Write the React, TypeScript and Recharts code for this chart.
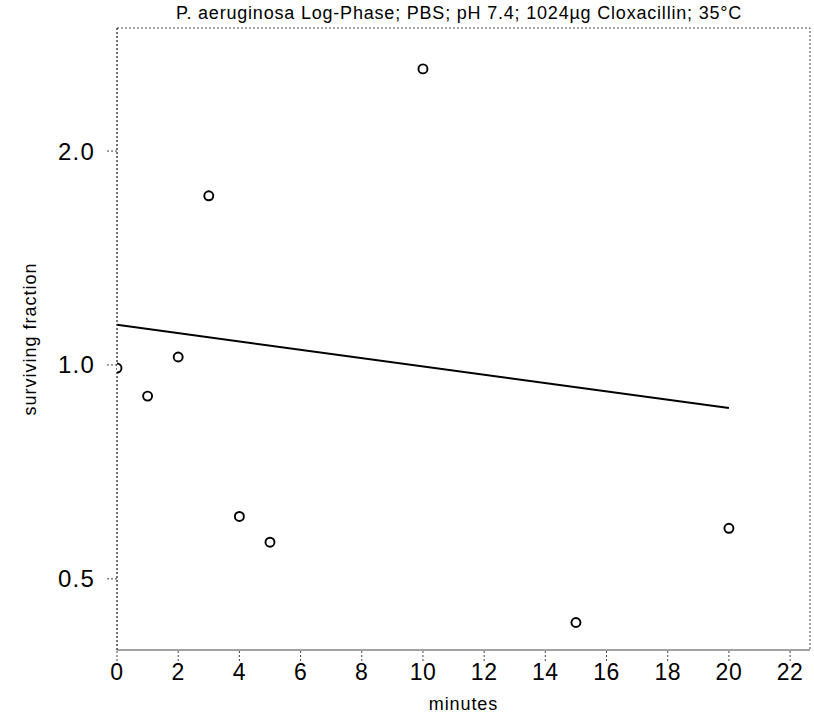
import React from "react";
import {
  ComposedChart,
  Scatter,
  Line,
  XAxis,
  YAxis,
  ReferenceArea,
} from "recharts";

const TITLE = "P. aeruginosa Log-Phase; PBS; pH 7.4; 1024µg Cloxacillin; 35°C";
const X_LABEL = "minutes";
const Y_LABEL = "surviving fraction";

const minutes = [0, 1, 2, 3, 4, 5, 10, 15, 20];
const survivingFraction = [0.99, 0.904, 1.026, 1.73, 0.612, 0.563, 2.61, 0.434, 0.589];

const fitMinutes = [0, 20];
const fitFraction = [1.139, 0.87];

const xTicks = [0, 2, 4, 6, 8, 10, 12, 14, 16, 18, 20, 22];
const yTicks = [0.5, 1.0, 2.0];

const X_DOMAIN: [number, number] = [0, 22.65];
const Y_DOMAIN: [number, number] = [0.397, 2.98];

const points = minutes.map((x, i) => ({ x, y: survivingFraction[i] }));
const fit = fitMinutes.map((x, i) => ({ x, y: fitFraction[i] }));

const FONT = "'Liberation Sans', Arial, sans-serif";
const AXIS_STROKE = "#444";
const DASH = "2 2";

const Dot = (props: any) => {
  const { cx, cy } = props;
  if (cx == null || cy == null) return null;
  return <circle cx={cx} cy={cy} r={4.5} fill="#fff" stroke="#000" strokeWidth={1.9} />;
};

export default function App() {
  return (
    <div style={{ position: "absolute", left: 0, top: 0, width: 814, height: 717, background: "#fff" }}>
      <div
        style={{
          position: "absolute",
          left: 0,
          top: 2,
          width: 918,
          textAlign: "center",
          fontFamily: FONT,
          fontSize: 18,
          letterSpacing: 0.8,
          color: "#000",
          lineHeight: "22px",
          whiteSpace: "nowrap",
        }}
      >
        {TITLE}
      </div>
      <ComposedChart
        width={814}
        height={717}
        margin={{ top: 28, right: 4, bottom: 0, left: 0 }}
        style={{ fontFamily: FONT }}
      >
        <XAxis
          dataKey="x"
          type="number"
          domain={X_DOMAIN}
          ticks={xTicks}
          allowDataOverflow
          height={67}
          stroke={AXIS_STROKE}
          axisLine={{ stroke: AXIS_STROKE, strokeDasharray: DASH }}
          tickLine={{ stroke: AXIS_STROKE, strokeDasharray: DASH }}
          tickSize={11}
          tickMargin={3}
          tick={{ fill: "#000", fontSize: 23, fontFamily: FONT, letterSpacing: 0.5 }}
          label={{
            value: X_LABEL,
            position: "insideBottom",
            offset: 7,
            fill: "#000",
            fontSize: 18,
            fontFamily: FONT,
            letterSpacing: 0.9,
          }}
        />
        <YAxis
          dataKey="y"
          type="number"
          scale="log"
          domain={Y_DOMAIN}
          ticks={yTicks}
          allowDataOverflow
          width={117}
          stroke={AXIS_STROKE}
          axisLine={{ stroke: AXIS_STROKE, strokeDasharray: DASH }}
          tickLine={{ stroke: AXIS_STROKE, strokeDasharray: DASH }}
          tickSize={10}
          tickMargin={12}
          tickFormatter={(v: number) => v.toFixed(1)}
          tick={{ fill: "#000", fontSize: 24, fontFamily: FONT, letterSpacing: 1.2 }}
          label={{
            value: Y_LABEL,
            angle: -90,
            position: "insideLeft",
            offset: 30,
            fill: "#000",
            fontSize: 18,
            fontFamily: FONT,
            letterSpacing: 1,
            style: { textAnchor: "middle" },
          }}
        />
        <ReferenceArea
          x1={X_DOMAIN[0]}
          x2={X_DOMAIN[1]}
          y1={Y_DOMAIN[0]}
          y2={Y_DOMAIN[1]}
          fill="none"
          fillOpacity={0}
          stroke={AXIS_STROKE}
          strokeDasharray={DASH}
          ifOverflow="visible"
        />
        <Line
          data={fit}
          dataKey="y"
          type="linear"
          stroke="#000"
          strokeWidth={2}
          dot={false}
          activeDot={false}
          isAnimationActive={false}
        />
        <Scatter data={points} dataKey="y" shape={Dot} isAnimationActive={false} />
      </ComposedChart>
    </div>
  );
}
